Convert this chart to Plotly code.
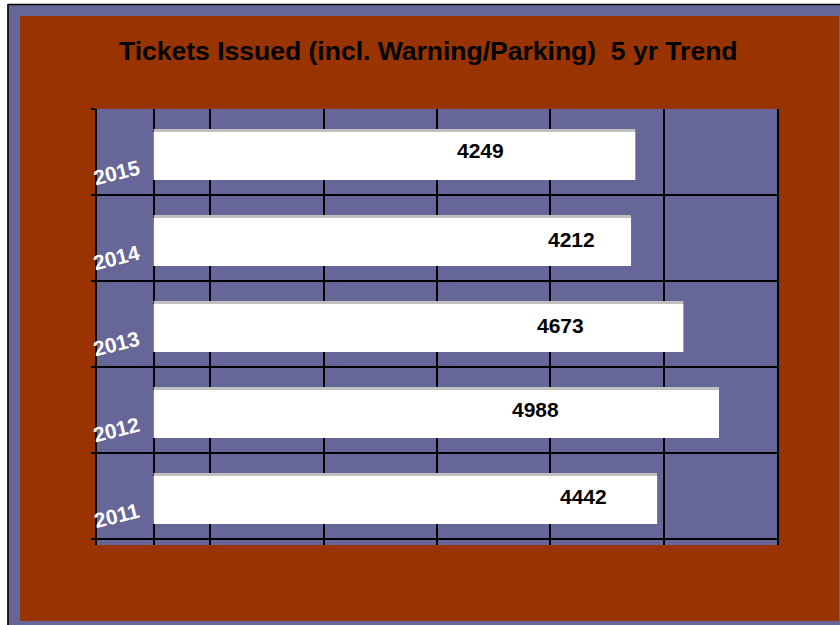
import plotly.graph_objects as go

# ---- data ----
years = ["2011", "2012", "2013", "2014", "2015"]
tickets = [4442, 4988, 4673, 4212, 4249]
title_text = "Tickets Issued (incl. Warning/Parking)  5 yr Trend"

# ---- style ----
BROWN = "#993300"
PURPLE = "#666699"
GREY = "#c0c0c0"
FONT = "Liberation Sans, Arial, sans-serif"
label_xshift = [-74, -183, -123, -60, -155]   # label placement per bar (px)
label_yshift = [-1, 0, -2, -2, 2]

W, H = 840, 625
L, R, T, B = 97, 63, 109, 80
PW, PH = W - L - R, H - T - B


def px(x):
    return (x - L) / PW


def py(y):
    return (H - B - y) / PH


fig = go.Figure()
# grey top edge (3D look)
fig.add_trace(go.Bar(
    y=years, x=tickets, orientation="h",
    marker=dict(color=GREY, line=dict(width=0)),
    offset=-0.3256, width=0.5916, hoverinfo="skip", showlegend=False))
# white bar body
fig.add_trace(go.Bar(
    y=years, x=tickets, orientation="h",
    marker=dict(color="white", line=dict(width=0)),
    offset=-0.3256, width=0.558, showlegend=False))

annotations = []
for i, (yr, v, dx, dy) in enumerate(zip(years, tickets, label_xshift, label_yshift)):
    annotations.append(dict(
        x=v, y=i, xref="x", yref="y", text=f"<b>{v}</b>", showarrow=False,
        xanchor="center", yanchor="middle", xshift=dx, yshift=dy,
        font=dict(family=FONT, size=21, color="black")))
    annotations.append(dict(
        x=0, y=i, xref="paper", yref="y", text=f"<b>{yr}</b>", showarrow=False,
        xanchor="center", yanchor="middle", xshift=19.5, yshift=-20,
        textangle=-14,
        font=dict(family=FONT, size=21, color="white")))

annotations.append(dict(
    x=px(428), y=py(51), xref="paper", yref="paper", text=f"<b>{title_text}</b>",
    showarrow=False, xanchor="center", yanchor="middle",
    font=dict(family=FONT, size=26.5, color="black")))

shapes = [
    # white margins at top/left
    dict(type="rect", xref="paper", yref="paper", x0=px(-5), x1=px(7.5), y0=py(630), y1=py(-5),
         fillcolor="white", line=dict(width=0), layer="below"),
    dict(type="rect", xref="paper", yref="paper", x0=px(-5), x1=px(845), y0=py(4), y1=py(-5),
         fillcolor="white", line=dict(width=0), layer="below"),
    # purple frame
    dict(type="rect", xref="paper", yref="paper", x0=px(8.5), x1=px(20), y0=py(630), y1=py(5),
         fillcolor=PURPLE, line=dict(width=0), layer="below"),
    dict(type="rect", xref="paper", yref="paper", x0=px(8.5), x1=px(845), y0=py(16), y1=py(5),
         fillcolor=PURPLE, line=dict(width=0), layer="below"),
    dict(type="rect", xref="paper", yref="paper", x0=px(8.5), x1=px(845), y0=py(630), y1=py(621),
         fillcolor=PURPLE, line=dict(width=0), layer="below"),
    dict(type="rect", xref="paper", yref="paper", x0=px(839), x1=px(845), y0=py(630), y1=py(5),
         fillcolor=PURPLE, line=dict(width=0), layer="below"),
    # black border lines
    dict(type="line", xref="paper", yref="paper", x0=px(8), x1=px(8), y0=py(630), y1=py(4),
         line=dict(color="black", width=1.5), layer="below"),
    dict(type="line", xref="paper", yref="paper", x0=px(8), x1=px(845), y0=py(4.5), y1=py(4.5),
         line=dict(color="black", width=1.5), layer="below"),
]

fig.update_layout(
    width=W, height=H,
    margin=dict(l=L, r=R, t=T, b=B, pad=0),
    paper_bgcolor=BROWN, plot_bgcolor=PURPLE,
    barmode="overlay",
    showlegend=False,
    annotations=annotations,
    shapes=shapes,
    xaxis=dict(range=[-500, 5500], tick0=500, dtick=1000, showgrid=True,
               gridcolor="black", gridwidth=2, zeroline=True, zerolinecolor="black",
               zerolinewidth=2, showticklabels=False, ticks="", showline=False),
    yaxis=dict(type="category", categoryorder="array", categoryarray=years,
               range=[-0.57, 4.5], tickson="boundaries", showgrid=True,
               gridcolor="black", gridwidth=2, showticklabels=False,
               ticks="outside", ticklen=4, tickwidth=2, tickcolor="black",
               showline=True, linecolor="black", linewidth=2, mirror=True),
)

fig.write_html("out.html", config={"displayModeBar": False},
               post_script="document.body.style.margin='0';document.body.style.overflow='hidden';")
